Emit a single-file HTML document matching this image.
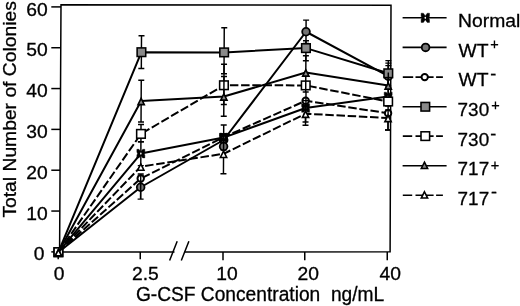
<!DOCTYPE html>
<html><head><meta charset="utf-8"><title>G-CSF colonies</title>
<style>
html,body{margin:0;padding:0;background:#fff;}
svg{display:block}
.t{font-family:"Liberation Sans",sans-serif;font-size:18.8px;fill:#000;}
.t{stroke:#000;stroke-width:0.3px}
.lg{font-size:19.1px}
.ax{font-size:19.5px}
.ay{font-size:18px}
</style></head><body>
<svg width="520" height="306" viewBox="0 0 520 306">
<rect width="520" height="306" fill="#fff"/>
<g stroke="#000" stroke-width="1.5" fill="none">
<path d="M61,4.7 L391,5.3 L390.1,251.8 L59.6,252.0 Z" stroke-width="1.5" stroke-linejoin="miter"/>
</g>
<rect x="174.5" y="249" width="10" height="6" fill="#fff"/>
<g stroke="#000" stroke-width="1.5" fill="none">
<path d="M169.6,260.5 L177.2,241.3 M181.3,260.5 L188.9,241.3"/>
<path d="M51.3,6.90 L60.99,6.90"/>
<path d="M51.3,47.73 L60.76,47.73"/>
<path d="M51.3,88.56 L60.53,88.56"/>
<path d="M51.3,129.39 L60.30,129.39"/>
<path d="M51.3,170.22 L60.07,170.22"/>
<path d="M51.3,211.05 L59.84,211.05"/>
<path d="M51.3,251.88 L59.62,251.88"/>
<path d="M58.2,252 L58.2,259.2"/>
<path d="M140.25,252 L140.25,259.2"/>
<path d="M223.0,252 L223.0,260.2"/>
<path d="M304.75,252 L304.75,260.2"/>
<path d="M387.25,252 L387.25,260.2"/>
</g>
<path d="M58.40,252.20 L140.85,153.60 L223.64,137.60 L305.61,108.00 L388.17,96.50" fill="none" stroke="#000" stroke-width="2" stroke-linejoin="round"/>
<path d="M140.92,141.70 L140.78,165.60 M137.92,141.70 L143.92,141.70 M137.78,165.60 L143.78,165.60 M223.71,125.00 L223.57,150.00 M220.71,125.00 L226.71,125.00 M220.57,150.00 L226.57,150.00 M305.65,100.50 L305.51,125.25 M302.65,100.50 L308.65,100.50 M302.51,125.25 L308.51,125.25 M388.34,65.60 L388.17,96.50 M385.34,65.60 L391.34,65.60" fill="none" stroke="#000" stroke-width="1.45"/>
<path d="M54.40,247.90 L56.50,247.90 L58.40,250.30 L60.30,247.90 L62.40,247.90 L62.40,250.60 L61.70,252.20 L62.40,253.80 L62.40,256.50 L60.30,256.50 L58.40,254.10 L56.50,256.50 L54.40,256.50 L54.40,253.80 L55.10,252.20 L54.40,250.60 Z" fill="#000" stroke="#000" stroke-width="0.4" stroke-linejoin="round"/><ellipse cx="58.40" cy="252.20" rx="0.8" ry="1.1" fill="#fff"/>
<path d="M136.85,149.30 L138.95,149.30 L140.85,151.70 L142.75,149.30 L144.85,149.30 L144.85,152.00 L144.15,153.60 L144.85,155.20 L144.85,157.90 L142.75,157.90 L140.85,155.50 L138.95,157.90 L136.85,157.90 L136.85,155.20 L137.55,153.60 L136.85,152.00 Z" fill="#000" stroke="#000" stroke-width="0.4" stroke-linejoin="round"/><ellipse cx="140.85" cy="153.60" rx="0.8" ry="1.1" fill="#fff"/>
<path d="M219.64,133.30 L221.74,133.30 L223.64,135.70 L225.54,133.30 L227.64,133.30 L227.64,136.00 L226.94,137.60 L227.64,139.20 L227.64,141.90 L225.54,141.90 L223.64,139.50 L221.74,141.90 L219.64,141.90 L219.64,139.20 L220.34,137.60 L219.64,136.00 Z" fill="#000" stroke="#000" stroke-width="0.4" stroke-linejoin="round"/><ellipse cx="223.64" cy="137.60" rx="0.8" ry="1.1" fill="#fff"/>
<path d="M301.61,103.70 L303.71,103.70 L305.61,106.10 L307.51,103.70 L309.61,103.70 L309.61,106.40 L308.91,108.00 L309.61,109.60 L309.61,112.30 L307.51,112.30 L305.61,109.90 L303.71,112.30 L301.61,112.30 L301.61,109.60 L302.31,108.00 L301.61,106.40 Z" fill="#000" stroke="#000" stroke-width="0.4" stroke-linejoin="round"/><ellipse cx="305.61" cy="108.00" rx="0.8" ry="1.1" fill="#fff"/>
<path d="M384.17,92.20 L386.27,92.20 L388.17,94.60 L390.07,92.20 L392.17,92.20 L392.17,94.90 L391.47,96.50 L392.17,98.10 L392.17,100.80 L390.07,100.80 L388.17,98.40 L386.27,100.80 L384.17,100.80 L384.17,98.10 L384.87,96.50 L384.17,94.90 Z" fill="#000" stroke="#000" stroke-width="0.4" stroke-linejoin="round"/><ellipse cx="388.17" cy="96.50" rx="0.8" ry="1.1" fill="#fff"/>
<path d="M58.40,252.20 L140.66,187.25 L223.63,140.00 L306.03,31.75 L388.29,76.20" fill="none" stroke="#000" stroke-width="2" stroke-linejoin="round"/>
<path d="M140.73,175.40 L140.60,199.10 M137.73,175.40 L143.73,175.40 M137.60,199.10 L143.60,199.10 M306.10,20.10 L305.97,43.40 M303.10,20.10 L309.10,20.10 M302.97,43.40 L308.97,43.40 M388.36,63.10 L388.22,88.00 M385.36,63.10 L391.36,63.10 M385.22,88.00 L391.22,88.00" fill="none" stroke="#000" stroke-width="1.45"/>
<circle cx="58.40" cy="252.20" r="3.85" fill="#747474" stroke="#000" stroke-width="1.8"/>
<circle cx="140.66" cy="187.25" r="3.85" fill="#747474" stroke="#000" stroke-width="1.8"/>
<circle cx="223.63" cy="140.00" r="3.85" fill="#747474" stroke="#000" stroke-width="1.8"/>
<circle cx="223.59" cy="146.50" r="3.85" fill="#747474" stroke="#000" stroke-width="1.8"/>
<circle cx="306.03" cy="31.75" r="3.85" fill="#747474" stroke="#000" stroke-width="1.8"/>
<circle cx="388.29" cy="76.20" r="3.85" fill="#747474" stroke="#000" stroke-width="1.8"/>
<path d="M58.40,252.20 L140.71,178.50 L223.64,137.20 L305.65,100.75 L388.08,113.25" fill="none" stroke="#000" stroke-width="2" stroke-dasharray="8.5 2.7" stroke-linejoin="round"/>
<path d="M140.74,174.00 L140.71,178.50 M137.74,174.00 L143.74,174.00 M137.71,178.50 L143.71,178.50 M388.12,106.00 L387.98,129.90 M385.12,106.00 L391.12,106.00 M384.98,129.90 L390.98,129.90" fill="none" stroke="#000" stroke-width="1.45"/>
<circle cx="58.40" cy="252.20" r="3.2" fill="#fff" stroke="#000" stroke-width="2.0"/>
<circle cx="140.71" cy="178.50" r="3.2" fill="#fff" stroke="#000" stroke-width="2.0"/>
<circle cx="223.64" cy="137.20" r="3.2" fill="none" stroke="#000" stroke-width="2.0"/>
<path d="M219.64,133.30 L221.74,133.30 L223.64,135.70 L225.54,133.30 L227.64,133.30 L227.64,136.00 L226.94,137.60 L227.64,139.20 L227.64,141.90 L225.54,141.90 L223.64,139.50 L221.74,141.90 L219.64,141.90 L219.64,139.20 L220.34,137.60 L219.64,136.00 Z" fill="#000" stroke="#000" stroke-width="0.4" stroke-linejoin="round"/><ellipse cx="223.64" cy="137.60" rx="0.8" ry="1.1" fill="#fff"/>
<circle cx="305.65" cy="100.75" r="3.2" fill="#fff" stroke="#000" stroke-width="2.0"/>
<circle cx="388.08" cy="113.25" r="3.2" fill="#fff" stroke="#000" stroke-width="2.0"/>
<path d="M58.40,252.20 L141.42,52.20 L224.12,52.40 L305.94,48.10 L388.30,73.30" fill="none" stroke="#000" stroke-width="2" stroke-linejoin="round"/>
<path d="M141.51,35.75 L141.33,68.50 M138.51,35.75 L144.51,35.75 M138.33,68.50 L144.33,68.50 M224.26,27.75 L224.00,73.70 M221.26,27.75 L227.26,27.75 M221.00,73.70 L227.00,73.70 M305.98,40.75 L305.87,60.75 M302.98,40.75 L308.98,40.75 M302.87,60.75 L308.87,60.75 M388.37,60.60 L388.23,86.00 M385.37,60.60 L391.37,60.60 M385.23,86.00 L391.23,86.00" fill="none" stroke="#000" stroke-width="1.45"/>
<rect x="54.10" y="247.90" width="8.6" height="8.6" fill="#8a8a8a" stroke="#000" stroke-width="1.55"/>
<rect x="137.12" y="47.90" width="8.6" height="8.6" fill="#8a8a8a" stroke="#000" stroke-width="1.55"/>
<rect x="219.82" y="48.10" width="8.6" height="8.6" fill="#8a8a8a" stroke="#000" stroke-width="1.55"/>
<rect x="301.64" y="43.80" width="8.6" height="8.6" fill="#8a8a8a" stroke="#000" stroke-width="1.55"/>
<rect x="384.00" y="69.00" width="8.6" height="8.6" fill="#8a8a8a" stroke="#000" stroke-width="1.55"/>
<path d="M58.40,252.20 L140.96,133.90 L223.93,85.25 L305.73,85.40 L388.14,101.50" fill="none" stroke="#000" stroke-width="2" stroke-dasharray="8.5 2.7" stroke-linejoin="round"/>
<path d="M141.02,124.50 L140.92,141.70 M138.02,124.50 L144.02,124.50 M137.92,141.70 L143.92,141.70 M224.05,64.20 L223.83,104.50 M221.05,64.20 L227.05,64.20 M220.83,104.50 L226.83,104.50" fill="none" stroke="#000" stroke-width="1.45"/>
<rect x="54.10" y="247.90" width="8.6" height="8.6" fill="#fff" stroke="#000" stroke-width="1.55"/>
<rect x="136.66" y="129.60" width="8.6" height="8.6" fill="#fff" stroke="#000" stroke-width="1.55"/>
<rect x="219.63" y="80.95" width="8.6" height="8.6" fill="#fff" stroke="#000" stroke-width="1.55"/>
<rect x="301.43" y="81.10" width="8.6" height="8.6" fill="#fff" stroke="#000" stroke-width="1.55"/>
<rect x="383.84" y="97.20" width="8.6" height="8.6" fill="#fff" stroke="#000" stroke-width="1.55"/>
<path d="M58.40,252.20 L141.15,101.00 L223.87,96.50 L305.81,72.50 L388.23,85.50" fill="none" stroke="#000" stroke-width="2" stroke-linejoin="round"/>
<path d="M141.26,80.25 L141.03,121.90 M138.26,80.25 L144.26,80.25 M138.03,121.90 L144.03,121.90 M223.98,76.50 L223.76,116.20 M220.98,76.50 L226.98,76.50 M220.76,116.20 L226.76,116.20 M305.90,55.75 L305.70,92.00 M302.90,55.75 L308.90,55.75 M302.70,92.00 L308.70,92.00 M388.31,72.50 L388.16,98.00" fill="none" stroke="#000" stroke-width="1.45"/>
<path d="M58.40,249.54 L61.55,255.85 L55.25,255.85 Z" fill="#8a8a8a" stroke="#000" stroke-width="1.6" stroke-linejoin="miter"/>
<path d="M141.15,98.34 L144.30,104.65 L138.00,104.65 Z" fill="#8a8a8a" stroke="#000" stroke-width="1.6" stroke-linejoin="miter"/>
<path d="M223.87,93.84 L227.02,100.15 L220.72,100.15 Z" fill="#8a8a8a" stroke="#000" stroke-width="1.6" stroke-linejoin="miter"/>
<path d="M305.81,69.84 L308.96,76.15 L302.66,76.15 Z" fill="#8a8a8a" stroke="#000" stroke-width="1.6" stroke-linejoin="miter"/>
<path d="M388.23,82.84 L391.38,89.15 L385.08,89.15 Z" fill="#8a8a8a" stroke="#000" stroke-width="1.6" stroke-linejoin="miter"/>
<path d="M58.40,252.20 L140.78,166.60 L223.55,153.80 L305.58,113.70 L388.05,118.00" fill="none" stroke="#000" stroke-width="2" stroke-dasharray="8.5 2.7" stroke-linejoin="round"/>
<path d="M223.66,134.00 L223.44,173.75 M220.66,134.00 L226.66,134.00 M220.44,173.75 L226.44,173.75 M305.62,105.50 L305.53,121.90 M302.62,105.50 L308.62,105.50 M302.53,121.90 L308.53,121.90 M388.10,110.00 L387.98,129.90 M385.10,110.00 L391.10,110.00 M384.98,129.90 L390.98,129.90" fill="none" stroke="#000" stroke-width="1.45"/>
<path d="M58.40,249.54 L61.55,255.85 L55.25,255.85 Z" fill="#fff" stroke="#000" stroke-width="1.6" stroke-linejoin="miter"/>
<path d="M140.78,163.94 L143.93,170.25 L137.63,170.25 Z" fill="#fff" stroke="#000" stroke-width="1.6" stroke-linejoin="miter"/>
<path d="M223.55,151.14 L226.70,157.45 L220.40,157.45 Z" fill="#fff" stroke="#000" stroke-width="1.6" stroke-linejoin="miter"/>
<path d="M305.58,111.04 L308.73,117.35 L302.43,117.35 Z" fill="#fff" stroke="#000" stroke-width="1.6" stroke-linejoin="miter"/>
<path d="M388.05,115.34 L391.20,121.65 L384.90,121.65 Z" fill="#fff" stroke="#000" stroke-width="1.6" stroke-linejoin="miter"/>
<path d="M306.0,92 L305.9,110 M303,100.6 L309,100.6 M140.75,174 L140.65,199" stroke="#000" stroke-width="1.4" fill="none"/>
<path d="M402.6,17.8 L446.6,17.8" stroke="#000" stroke-width="1.6" fill="none"/>
<path d="M421.10,13.20 L423.40,13.20 L425.30,15.90 L427.20,13.20 L429.50,13.20 L429.50,16.20 L428.60,17.80 L429.50,19.40 L429.50,22.40 L427.20,22.40 L425.30,19.70 L423.40,22.40 L421.10,22.40 L421.10,19.40 L422.00,17.80 L421.10,16.20 Z" fill="#000" stroke="#000" stroke-width="0.4" stroke-linejoin="round"/><ellipse cx="425.30" cy="17.80" rx="0.8" ry="1.1" fill="#fff"/>
<text transform="translate(458.0,27.2) scale(1.012,1)" class="t lg">Normal</text>
<path d="M402.6,47.4 L446.6,47.4" stroke="#000" stroke-width="1.6" fill="none"/>
<circle cx="425.60" cy="47.40" r="3.85" fill="#747474" stroke="#000" stroke-width="1.8"/>
<text transform="translate(458.4,57.0) scale(1.012,1)" class="t lg">WT</text>
<text x="490.25" y="49.0" class="t" style="font-size:14.5px">+</text>
<path d="M402.8,77.1 L413.2,77.1 M415.5,77.1 L433.6,77.1 M436.1,77.1 L442.9,77.1" stroke="#000" stroke-width="1.6" fill="none"/>
<circle cx="424.70" cy="77.10" r="3.2" fill="#fff" stroke="#000" stroke-width="2.0"/>
<text transform="translate(458.4,86.0) scale(1.012,1)" class="t lg">WT</text>
<text x="490.35" y="79.5" class="t" style="font-size:18px">-</text>
<path d="M402.6,106.75 L446.6,106.75" stroke="#000" stroke-width="1.6" fill="none"/>
<rect x="421.00" y="102.45" width="8.6" height="8.6" fill="#8a8a8a" stroke="#000" stroke-width="1.55"/>
<text transform="translate(457.6,115.6) scale(0.99,1)" class="t lg">730</text>
<text x="491.15" y="110.0" class="t" style="font-size:14.5px">+</text>
<path d="M402.8,136.1 L412.2,136.1 M415.5,136.1 L433.6,136.1 M436.1,136.1 L442.9,136.1" stroke="#000" stroke-width="1.6" fill="none"/>
<rect x="421.00" y="131.80" width="8.6" height="8.6" fill="#fff" stroke="#000" stroke-width="1.55"/>
<text transform="translate(457.6,145.6) scale(0.99,1)" class="t lg">730</text>
<text x="490.35" y="139.65" class="t" style="font-size:18px">-</text>
<path d="M402.6,165.75 L446.6,165.75" stroke="#000" stroke-width="1.6" fill="none"/>
<path d="M424.45,162.19 L427.60,168.50 L421.30,168.50 Z" fill="#8a8a8a" stroke="#000" stroke-width="1.6" stroke-linejoin="miter"/>
<text transform="translate(457.6,175.3) scale(0.99,1)" class="t lg">717</text>
<text x="490.7" y="169.55" class="t" style="font-size:14.5px">+</text>
<path d="M402.8,195.3 L412.2,195.3 M415.5,195.3 L433.6,195.3 M436.1,195.3 L442.9,195.3" stroke="#000" stroke-width="1.6" fill="none"/>
<path d="M424.45,191.74 L427.60,198.05 L421.30,198.05 Z" fill="#fff" stroke="#000" stroke-width="1.6" stroke-linejoin="miter"/>
<text transform="translate(457.6,204.7) scale(0.99,1)" class="t lg">717</text>
<text x="491.0" y="198.3" class="t" style="font-size:18px">-</text>
<text transform="translate(47.6,15.60) scale(1.025,1)" class="t" text-anchor="end">60</text>
<text transform="translate(47.6,56.43) scale(1.025,1)" class="t" text-anchor="end">50</text>
<text transform="translate(47.6,97.26) scale(1.025,1)" class="t" text-anchor="end">40</text>
<text transform="translate(47.6,138.09) scale(1.025,1)" class="t" text-anchor="end">30</text>
<text transform="translate(47.6,178.92) scale(1.025,1)" class="t" text-anchor="end">20</text>
<text transform="translate(47.6,219.75) scale(1.025,1)" class="t" text-anchor="end">10</text>
<text transform="translate(44.4,260.4) scale(1.025,1)" class="t" text-anchor="end">0</text>
<text transform="translate(53.7,280.1) scale(1.025,1)" class="t">0</text>
<text transform="translate(132.0,280.1) scale(1.025,1)" class="t">2.5</text>
<text transform="translate(216.2,280.1) scale(1.025,1)" class="t">10</text>
<text transform="translate(297.6,280.1) scale(1.025,1)" class="t">20</text>
<text transform="translate(379.6,280.1) scale(1.025,1)" class="t">40</text>
<text transform="translate(135.9,300.7) scale(0.984,1)" class="t ax" xml:space="preserve" style="white-space:pre">G-CSF Concentration  ng/mL</text>
<text transform="translate(15.5,217.6) rotate(-90) scale(1.072,1)" class="t ay">Total Number of Colonies</text>
</svg>
</body></html>
